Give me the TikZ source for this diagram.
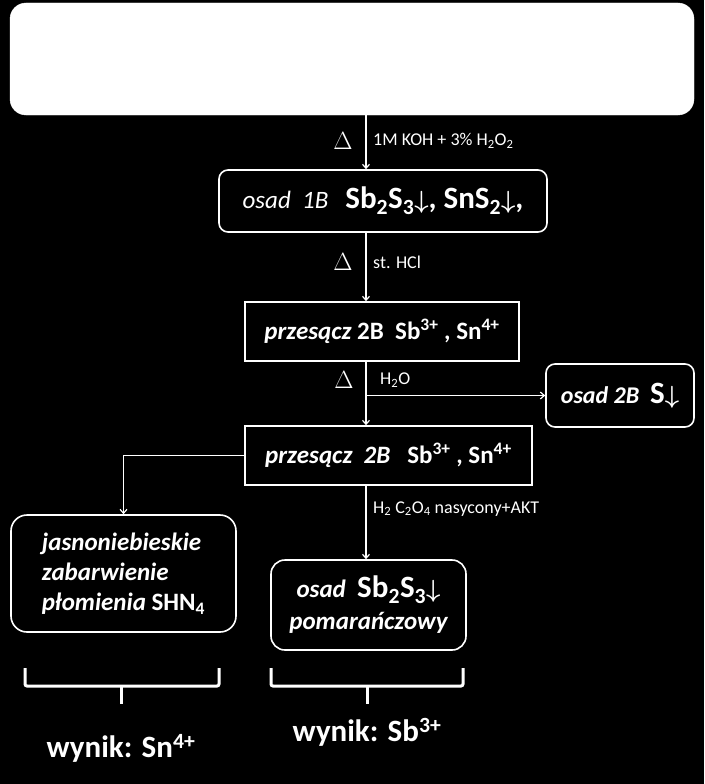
\documentclass[tikz,border=0pt]{standalone}
\usepackage{fontspec}
\setmainfont{Carlito}
\usetikzlibrary{arrows.meta}
\tikzset{
  rbox/.style={draw, white, line width=1.6pt, rounded corners=9pt, inner sep=0pt, text=white},
  sbox/.style={draw, white, line width=1.6pt, inner sep=0pt, text=white},
  lab/.style={white, anchor=west, inner sep=0pt, font=\fontsize{18}{20}\selectfont},
  dlt/.style={white, inner sep=0pt, font=\fontsize{23}{25}\selectfont},
  brace/.style={white, line width=3pt, rounded corners=2pt},
  res/.style={white, font=\fontsize{31}{34}\selectfont\bfseries},
}
\newcommand{\dn}{{\boldmath$\downarrow$}}
\newcommand{\chemsize}{\fontsize{31}{33}\selectfont}
\begin{document}
\begin{tikzpicture}[x=1pt, y=-1pt, >={Straight Barb[length=4pt,width=7pt]}]
	\fill[black] (0,0) rectangle (704,784);
	\useasboundingbox (0,0) rectangle (704,784);
	\coordinate (c) at (366,0);
	% boxes
	\node[fill=white, draw=white, rounded corners=16pt, minimum width=684pt, minimum height=112pt] (top) at (352,59) {};
	\node[rbox, minimum width=328pt, minimum height=62pt, font=\fontsize{25}{27}\selectfont] (b1) at (383,201)
		{{\itshape osad\ \ 1B}\ \ \ {\chemsize\bfseries Sb\textsubscript{2}S\textsubscript{3}\dn, SnS\textsubscript{2}\dn,}};
	\node[sbox, minimum width=274pt, minimum height=59pt, font=\fontsize{25}{27}\selectfont\bfseries] (p1) at (382,331.5)
		{{\itshape przesącz} 2B\ \ Sb\textsuperscript{3+} , Sn\textsuperscript{4+}};
	\node[rbox, minimum width=148pt, minimum height=63pt, font=\fontsize{24}{26}\selectfont\bfseries] (s2) at (620,395.5)
		{{\itshape osad 2B}\ \ {\chemsize S\dn}};
	\node[sbox, minimum width=287pt, minimum height=59pt, font=\fontsize{25}{27}\selectfont\bfseries] (p2) at (388.5,455.5)
		{{\itshape przesącz\ \ 2B}\ \ \ Sb\textsuperscript{3+} , Sn\textsuperscript{4+}};
	\node[rbox, rounded corners=16pt, minimum width=225pt, minimum height=117pt, align=left, font=\fontsize{25}{30}\selectfont\bfseries\itshape] (jas) at (123.5,573.5)
		{jasnoniebieskie\\zabarwienie\\płomienia {\upshape SHN\textsubscript{4}}};
	\node[rbox, rounded corners=14pt, minimum width=195pt, minimum height=90pt, align=center, font=\fontsize{25}{32}\selectfont\bfseries] (sb) at (368.5,605)
		{{\itshape osad}\ \ {\chemsize Sb\textsubscript{2}S\textsubscript{3}\dn}\\{\itshape pomarańczowy}};
	% connectors
	\draw[->, white, line width=1.2pt] (top.south -| c) -- (b1.north -| c);
	\draw[->, white, line width=1.2pt] (b1.south -| c) -- (p1.north -| c);
	\draw[->, white, line width=1.2pt] (p1.south -| c) -- (p2.north -| c);
	\draw[->, white, line width=1.2pt] (s2.west -| c) -- (s2.west);
	\draw[->, white, line width=1.2pt] (p2.west) -| (jas.north);
	\draw[->, white, line width=1.2pt] (p2.south -| c) -- (sb.north -| c);
	% labels
	\node[dlt] (d1) at (343,141) {$\Delta$};
	\node[dlt] (d2) at (343,262) {$\Delta$};
	\node[dlt] (d3) at (344,380) {$\Delta$};
	\node[lab] (l1) at (373,141) {1M KOH + 3\% H\textsubscript{2}O\textsubscript{2}};
	\node[lab] (l2) at (373,262) {st. HCl};
	\node[lab] (l3) at (380,380) {H\textsubscript{2}O};
	\node[lab] (l4) at (373,509) {H\textsubscript{2} C\textsubscript{2}O\textsubscript{4} nasycony+AKT};
	% braces
	\draw[brace] (25,668) -- (25,686) -- (219,686) -- (219,668);
	\draw[brace] (121,686) -- (121,704);
	\draw[brace] (271,668) -- (271,686) -- (463,686) -- (463,668);
	\draw[brace] (367,686) -- (367,704);
	\node[res] (w1) at (121,748) {wynik: Sn\textsuperscript{4+}};
	\node[res] (w2) at (367,732) {wynik: Sb\textsuperscript{3+}};
\end{tikzpicture}
\end{document}
